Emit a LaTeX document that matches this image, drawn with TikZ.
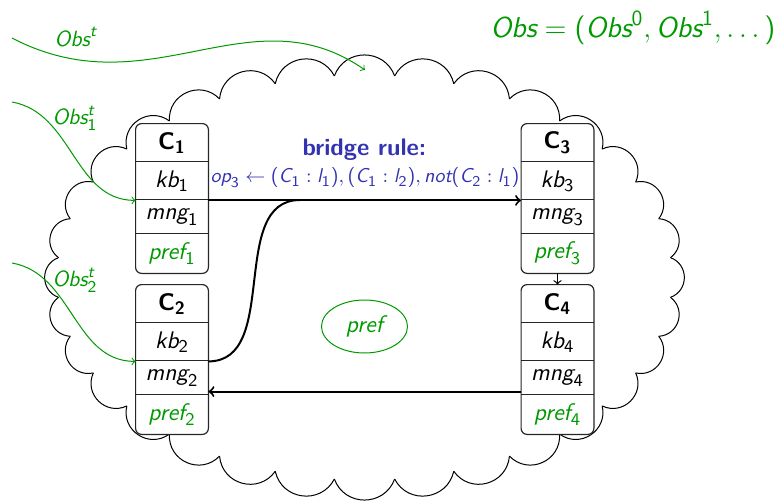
\documentclass[tikz,border=0pt]{standalone}
\usepackage{amsmath}
\usepackage{fontspec}
\usetikzlibrary{shapes.geometric,backgrounds}
\DeclareMathSizes{12}{12}{9}{7}
\DeclareMathSizes{11}{11}{8.25}{6.5}
\DeclareMathSizes{10}{10}{7.5}{6}
\DeclareMathSizes{14.4}{14.4}{10.8}{8}
\definecolor{obsgreen}{rgb}{0,0.6,0}
\definecolor{strblue}{rgb}{0.2,0.2,0.7}
\newcommand{\mytv}[1]{\text{\normalfont\sffamily\itshape #1}}
\newcommand{\mytu}[1]{\text{\normalfont\sffamily\upshape #1}}
\newcommand{\mytb}[1]{\text{\normalfont\sffamily\bfseries #1}}
\tikzset{
  row/.style={minimum width=36pt, inner sep=0pt, font=\fontsize{12}{14}\selectfont},
  boxline/.style={draw=black!85, line width=0.6pt},
  conn/.style={line width=1pt},
  obs/.style={draw=obsgreen, line width=0.5pt, ->},
  obslabel/.style={text=obsgreen, inner sep=0pt, font=\fontsize{11}{13}\selectfont},
  cloudline/.style={line width=0.5pt},
}
\begin{document}
\begin{tikzpicture}[x=0.5pt, y=-0.5pt]
\useasboundingbox (0,0) rectangle (783,503);

% C1
\node[row, minimum height=19pt] (c1h) at (172,143) {$\mytb{C}_{\mytb{1}}$};
\node[row, minimum height=19pt] (c1k) at (172,181) {$\mytv{kb}_{\mytu{1}}$};
\node[row, minimum height=17pt] (c1m) at (172,217) {$\mytv{mng}_{\mytu{1}}$};
\node[row, minimum height=19.5pt, text=obsgreen] (c1p) at (172,253.5) {$\mytv{pref}_{\mytu{1}}$};
% C3
\node[row, minimum height=19pt] (c3h) at (557.5,143) {$\mytb{C}_{\mytb{3}}$};
\node[row, minimum height=19pt] (c3k) at (557.5,181) {$\mytv{kb}_{\mytu{3}}$};
\node[row, minimum height=17pt] (c3m) at (557.5,217) {$\mytv{mng}_{\mytu{3}}$};
\node[row, minimum height=19.5pt, text=obsgreen] (c3p) at (557.5,253.5) {$\mytv{pref}_{\mytu{3}}$};
% C2
\node[row, minimum height=19pt] (c2h) at (172,304) {$\mytb{C}_{\mytb{2}}$};
\node[row, minimum height=19pt] (c2k) at (172,342) {$\mytv{kb}_{\mytu{2}}$};
\node[row, minimum height=17pt] (c2m) at (172,378) {$\mytv{mng}_{\mytu{2}}$};
\node[row, minimum height=19.5pt, text=obsgreen] (c2p) at (172,414.5) {$\mytv{pref}_{\mytu{2}}$};
% C4
\node[row, minimum height=19pt] (c4h) at (557.5,304) {$\mytb{C}_{\mytb{4}}$};
\node[row, minimum height=19pt] (c4k) at (557.5,342) {$\mytv{kb}_{\mytu{4}}$};
\node[row, minimum height=17pt] (c4m) at (557.5,378) {$\mytv{mng}_{\mytu{4}}$};
\node[row, minimum height=19.5pt, text=obsgreen] (c4p) at (557.5,414.5) {$\mytv{pref}_{\mytu{4}}$};

% cloud and box fills behind
\begin{scope}[on background layer]
\foreach \i in {0,...,31}{
  \pgfmathsetmacro\ta{(\i+0.5)*11.25}
  \pgfmathsetmacro\tb{(\i+1.5)*11.25}
  \draw[cloudline] ({364.5+307.5*cos(\ta)},{277.5-202.5*sin(\ta)})
     to[bend right=70, looseness=1.27] ({364.5+307.5*cos(\tb)},{277.5-202.5*sin(\tb)});
}
\foreach \c in {c1,c2,c3,c4}{
  \fill[white, rounded corners=3pt] (\c h.north west) rectangle (\c p.south east);
}
\end{scope}

% outlines and separators
\foreach \c in {c1,c2,c3,c4}{
  \draw[boxline, rounded corners=3pt] (\c h.north west) rectangle (\c p.south east);
  \draw[boxline] (\c k.north west) -- (\c k.north east);
  \draw[boxline] (\c m.north west) -- (\c m.north east);
  \draw[boxline] (\c p.north west) -- (\c p.north east);
}

% bridge rule
\node[text=strblue, inner sep=0pt, font=\fontsize{12}{14}\selectfont\sffamily\bfseries] (br) at (364.5,150) {bridge rule:};
\node[text=strblue, inner sep=0pt, font=\fontsize{10}{12}\selectfont] (op) at (365,178)
  {$\mytv{op}_{\mytu{3}} \leftarrow \mytu{(}\mytv{C}_{\mytu{1}} : \mytv{l}_{\mytu{1}}\mytu{)}, \mytu{(}\mytv{C}_{\mytu{1}} : \mytv{l}_{\mytu{2}}\mytu{)}, \mytv{not}\mytu{(}\mytv{C}_{\mytu{2}} : \mytv{l}_{\mytu{1}}\mytu{)}$};

\coordinate (join) at (300,200);
\draw[conn, ->] (c1k.south east) -- (c3k.south west);
\draw[conn] (c2k.south east) to[out=0, in=180] (join);
\draw[conn, ->] ([yshift=1.5pt]c4p.north west) -- ([yshift=1.5pt]c2p.north east);
\draw[->, line width=0.6pt] (c3p.south) -- (c4h.north);

% pref ellipse
\node[draw=obsgreen, ellipse, line width=0.5pt, minimum width=43pt, minimum height=26.5pt, inner sep=0pt,
  text=obsgreen, font=\fontsize{12}{14}\selectfont] (pref) at (364.5,326.5) {$\mytv{pref}$};

% observations
\coordinate (s0) at (12,38);
\coordinate (t0) at (365,70);
\coordinate (s1) at (12,102);
\coordinate (s2) at (12,263);
\draw[obs] (s0) .. controls (150,110) and (250,-10) .. (t0);
\draw[obs] (s1) to[out=-10, in=180] (c1k.south west);
\draw[obs] (s2) to[out=-10, in=180] (c2k.south west);
\node[obslabel] (l0) at (76,37) {$\mytv{Obs}^{\mytv{t}}$};
\node[obslabel] (l1) at (75,118) {$\mytv{Obs}^{\mytv{t}}_{\mytu{1}}$};
\node[obslabel] (l2) at (75,280) {$\mytv{Obs}^{\mytv{t}}_{\mytu{2}}$};

\node[text=obsgreen, inner sep=0pt, font=\fontsize{14.4}{16}\selectfont] (obs) at (633,28)
  {$\mytv{Obs} = \mytu{(}\mytv{Obs}^{\mytu{0}}, \mytv{Obs}^{\mytu{1}}, \ldots\mytu{)}$};
\end{tikzpicture}
\end{document}
